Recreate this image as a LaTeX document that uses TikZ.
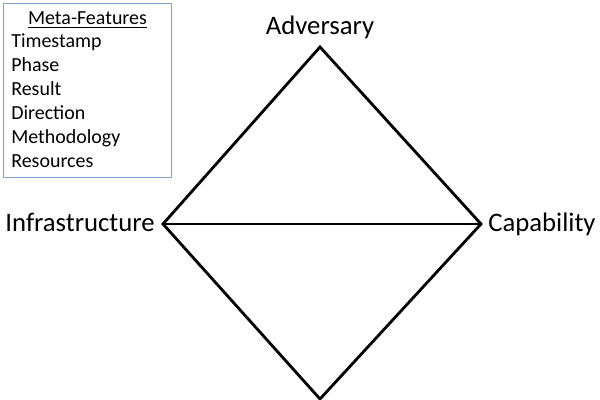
\documentclass[tikz,border=0pt]{standalone}
\usepackage{fontspec}
\setmainfont{Carlito}
\definecolor{boxblue}{RGB}{130,165,215}
\begin{document}
\begin{tikzpicture}[x=0.025cm, y=0.025cm,
		vertexlabel/.style={font=\fontsize{19}{22}\selectfont, inner sep=0pt},
		featurelabel/.style={font=\fontsize{14.2}{17}\selectfont, inner sep=0pt, anchor=base west}]

		\useasboundingbox (0, 0) rectangle (600, 400);

		% meta-features box
		\draw [boxblue, line width=0.7pt] (3, 223) rectangle (171, 397);
		\node [featurelabel, anchor=base] (meta) at (87.5, 375) {\underline{Meta-Features}};
		\node [featurelabel] (timestamp) at (11, 352) {Timestamp};
		\node [featurelabel] (phase) at (11, 328) {Phase};
		\node [featurelabel] (result) at (11, 304) {Result};
		\node [featurelabel] (direction) at (11, 280) {Direction};
		\node [featurelabel] (methodology) at (11, 256) {Methodology};
		\node [featurelabel] (resources) at (11, 232) {Resources};

		% diamond
		\coordinate (adversary) at (320, 353);
		\coordinate (capability) at (481, 176);
		\coordinate (victim) at (320, 1);
		\coordinate (infrastructure) at (163, 176);

		\draw [line width=2pt] (adversary) -- (capability) -- (victim) -- (infrastructure) -- cycle;
		\draw [line width=2pt] (infrastructure) -- (capability);

		\node [vertexlabel, anchor=base] (advlabel) at (320, 365) {Adversary};
		\node [vertexlabel, anchor=base east] (infralabel) at (155, 168) {Infrastructure};
		\node [vertexlabel, anchor=base west] (caplabel) at (488, 168) {Capability};
	\end{tikzpicture}
\end{document}
